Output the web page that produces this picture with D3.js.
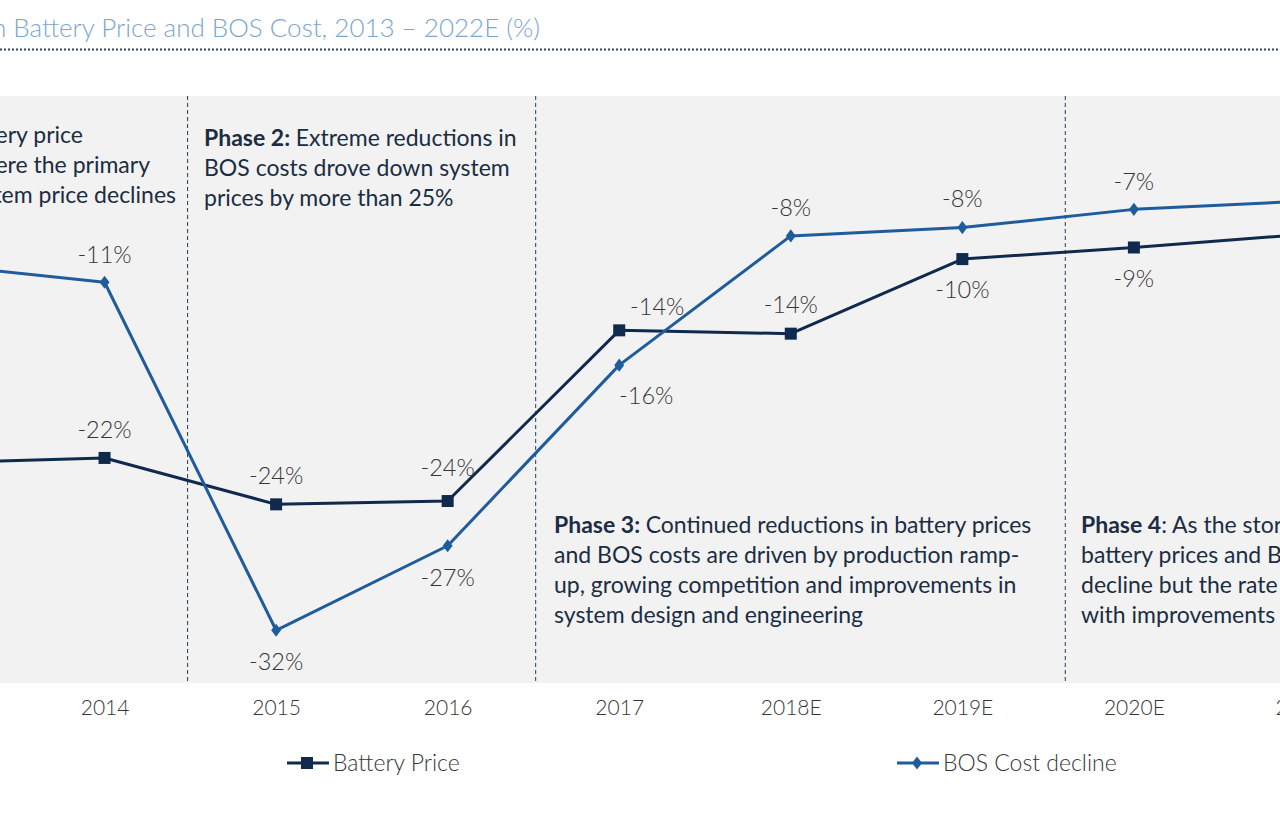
<!DOCTYPE html>
<html>
<head>
<meta charset="utf-8">
<script src="https://cdn.jsdelivr.net/npm/d3@7/dist/d3.min.js"></script>
<style>
  html, body { margin: 0; padding: 0; background: #ffffff; overflow: hidden; }
  svg { display: block; font-family: "Lato", "Open Sans", sans-serif; }
</style>
</head>
<body>
<svg id="chart" width="1280" height="814"></svg>
<script>
// ---------- data ----------
const categories = ["2013", "2014", "2015", "2016", "2017", "2018E", "2019E", "2020E", "2021E", "2022E"];
const batteryPrice = [-21.9, -21.6, -24.4, -24.2, -13.9, -14.1, -9.6, -8.9, -8.1, -7.6];
const bosCostDecline = [-9.9, -11.0, -32.0, -26.9, -16.0, -8.2, -7.7, -6.6, -6.1, -5.8];
const seriesNames = ["Battery Price", "BOS Cost decline"];
const titleText = "Annual Decline in Battery Price and BOS Cost, 2013 – 2022E (%)";

// phase dividers: category after which the divider sits, and fraction of a step
const dividers = [["2014", 0.484], ["2016", 0.513], ["2019E", 0.60]];

// phase notes (segments: [text, bold])
const phase1 = [
  [["Phase 1: ", true], ["Declining battery price", false]],
  [["reductions were the primary", false]],
  [["driver of system price declines", false]]
];
const phase2 = [
  [["Phase 2: ", true], ["Extreme reductions in", false]],
  [["BOS costs drove down system", false]],
  [["prices by more than 25%", false]]
];
const phase3 = [
  [["Phase 3: ", true], ["Continued reductions in battery prices", false]],
  [["and BOS costs are driven by production ramp-", false]],
  [["up, growing competition and improvements in", false]],
  [["system design and engineering", false]]
];
const phase4 = [
  [["Phase 4", true], [": As the storage market matures,", false]],
  [["battery prices and BOS costs continue to", false]],
  [["decline but the rate of decline slows", false]],
  [["with improvements in technology", false]]
];

// ---------- layout ----------
const W = 1280, H = 814;
const svg = d3.select("#chart");
const C = {
  battery: "#0f2a4d",
  bos: "#1f5c9c",
  text: "#1b2d42",
  label: "#363636",
  axis: "#363636",
  title: "#7ba6cf",
  panel: "#f2f2f2"
};

const x = d3.scalePoint().domain(categories).range([-67, 1477]);
const y = d3.scaleLinear().domain([0, -35]).range([100, 680]);
const step = x.step();

svg.append("rect").attr("width", W).attr("height", H).attr("fill", "#ffffff");

// title
svg.append("text")
  .attr("x", 540).attr("y", 37)
  .attr("text-anchor", "end")
  .attr("font-size", 26).attr("font-weight", 300)
  .attr("fill", C.title)
  .text(titleText);

svg.append("line")
  .attr("x1", 0).attr("x2", W).attr("y1", 49.5).attr("y2", 49.5)
  .attr("stroke", "#2f4456").attr("stroke-width", 2).attr("stroke-dasharray", "2,2");

// plot panel
svg.append("rect")
  .attr("x", -100).attr("y", 96).attr("width", 1700).attr("height", 587)
  .attr("fill", C.panel);

// dividers
svg.selectAll("line.div").data(dividers).join("line")
  .attr("class", "div")
  .attr("x1", d => x(d[0]) + d[1] * step).attr("x2", d => x(d[0]) + d[1] * step)
  .attr("y1", 96).attr("y2", 683)
  .attr("stroke", "#2b3a4a").attr("stroke-width", 1).attr("stroke-dasharray", "4,3");

// phase notes
function note(lines, x0, y0, anchor, ends) {
  lines.forEach((segs, i) => {
    const t = svg.append("text")
      .attr("x", ends ? ends[i] : x0)
      .attr("y", y0 + i * 30)
      .attr("text-anchor", anchor)
      .attr("font-size", 23)
      .attr("fill", C.text);
    segs.forEach(s => t.append("tspan").attr("font-weight", s[1] ? 700 : 400).text(s[0]));
  });
}
note(phase1, 0, 143, "end", [83, 150, 176]);
note(phase2, 204, 146, "start");
note(phase3, 554, 533, "start");
note(phase4, 1081, 533, "start");

// lines
const lineGen = d3.line().x((d, i) => x(categories[i])).y(d => y(d));
svg.append("path").datum(batteryPrice)
  .attr("d", lineGen).attr("fill", "none")
  .attr("stroke", C.battery).attr("stroke-width", 3).attr("stroke-linejoin", "round");
svg.append("path").datum(bosCostDecline)
  .attr("d", lineGen).attr("fill", "none")
  .attr("stroke", C.bos).attr("stroke-width", 3).attr("stroke-linejoin", "round");

// markers
svg.selectAll("rect.bm").data(batteryPrice).join("rect")
  .attr("class", "bm")
  .attr("x", (d, i) => x(categories[i]) - 6).attr("y", d => y(d) - 6)
  .attr("width", 12).attr("height", 12).attr("fill", C.battery);
const diamond = d3.symbol().type(d3.symbolDiamond).size(50);
svg.selectAll("path.dm").data(bosCostDecline).join("path")
  .attr("class", "dm")
  .attr("d", diamond)
  .attr("transform", (d, i) => `translate(${x(categories[i])},${y(d)}) scale(1.3,1)`)
  .attr("fill", C.bos);

// data labels: placement per point ([dy, dx])
const batteryLabelPos = [[-28, 0], [-28, 0], [-29, 0], [-33, 0], [-24, 38], [-29, 0], [31, 0], [31, 0], [31, 0], [31, 0]];
const bosLabelPos = [[-28, 0], [-28, 0], [31, 0], [32, 0], [31, 27], [-28, 0], [-29, 0], [-28, 0], [-28, 0], [-28, 0]];
const fmt = v => Math.round(v) + "%";
function labels(vals, pos, cls) {
  svg.selectAll("text." + cls).data(vals).join("text")
    .attr("class", cls)
    .attr("x", (d, i) => x(categories[i]) + pos[i][1])
    .attr("y", (d, i) => y(d) + pos[i][0])
    .attr("dy", "0.35em")
    .attr("text-anchor", "middle")
    .attr("font-size", 23.5).attr("font-weight", 300)
    .attr("fill", C.label)
    .text(d => fmt(d));
}
labels(batteryPrice, batteryLabelPos, "bl");
labels(bosCostDecline, bosLabelPos, "sl");

// x axis labels
const xAxis = d3.axisBottom(x).tickSize(0).tickPadding(0);
const gx = svg.append("g").attr("transform", "translate(0,700)").call(xAxis);
gx.select(".domain").remove();
gx.selectAll("text")
  .attr("font-size", 21).attr("font-weight", 300)
  .attr("font-family", "Lato, 'Open Sans', sans-serif")
  .attr("fill", C.axis);

// legend
const legend = [
  { name: seriesNames[0], color: C.battery, shape: "square", x: 287 },
  { name: seriesNames[1], color: C.bos, shape: "diamond", x: 897 }
];
legend.forEach(l => {
  const g = svg.append("g").attr("transform", `translate(${l.x},763)`);
  g.append("line").attr("x1", 0).attr("x2", 42).attr("stroke", l.color).attr("stroke-width", 3);
  if (l.shape === "square") {
    g.append("rect").attr("x", 14).attr("y", -6).attr("width", 12).attr("height", 12).attr("fill", l.color);
  } else {
    g.append("path").attr("d", diamond).attr("transform", "translate(20,0) scale(1.3,1)").attr("fill", l.color);
  }
  g.append("text").attr("x", 46).attr("dy", "0.35em")
    .attr("font-size", 23).attr("font-weight", 300).attr("fill", C.label)
    .text(l.name);
});
</script>
</body>
</html>
